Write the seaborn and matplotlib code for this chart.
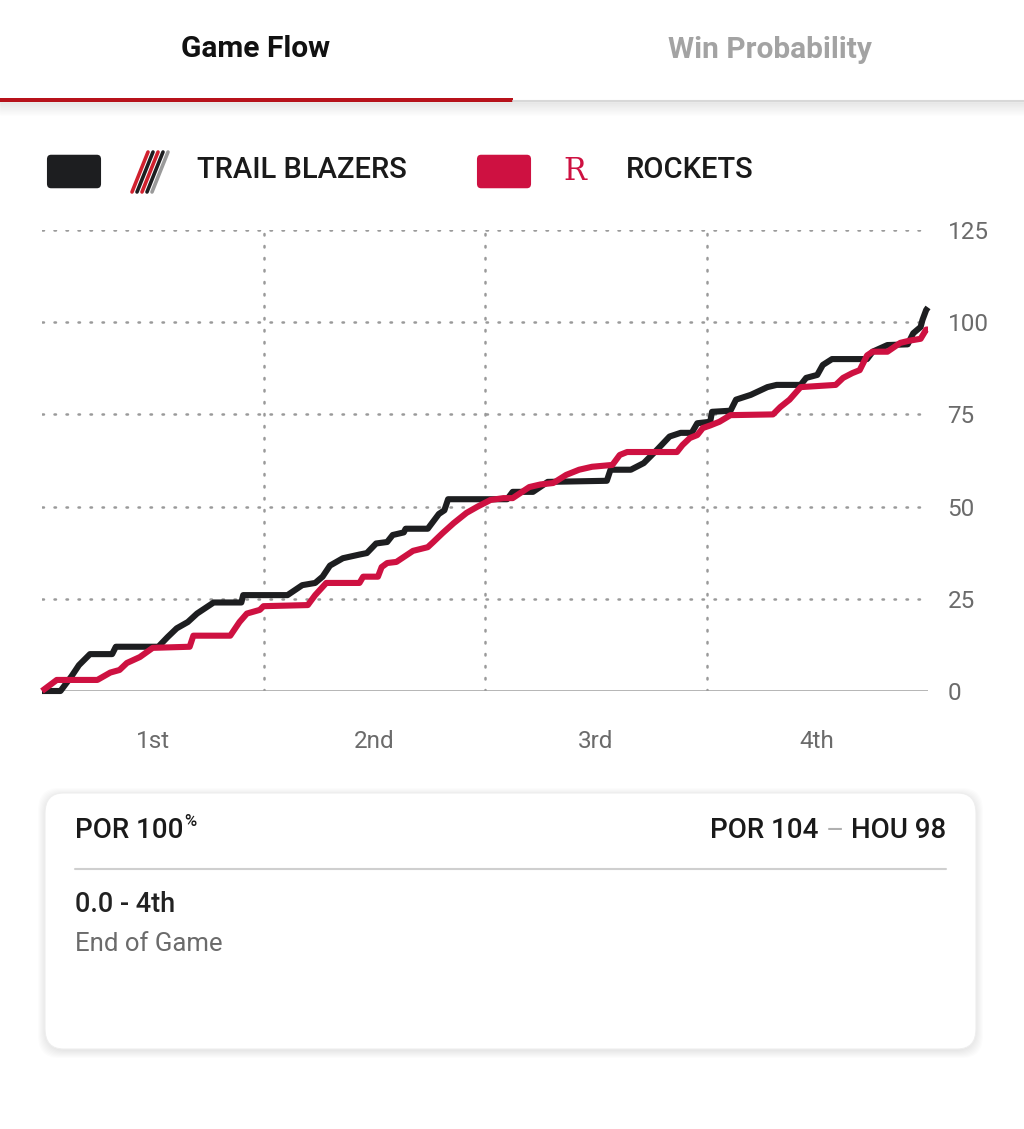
import matplotlib
matplotlib.use('Agg')
import matplotlib.pyplot as plt
import seaborn as sns
import pandas as pd
from matplotlib.patches import FancyBboxPatch, Rectangle
from matplotlib.lines import Line2D

# pontos acumulados por minuto de jogo
por_min = [0, 1.0, 1.6, 2.0, 2.6, 3.8, 4.0, 6.3, 6.8, 7.3, 7.9, 8.4, 9.3, 10.8, 10.9,
           13.3, 14.1, 14.8, 15.2, 15.6, 16.3, 17.2, 17.6, 18.1, 18.7, 19.0, 19.6, 19.7,
           20.9, 21.2, 21.5, 21.8, 22.0, 25.2, 25.5, 26.6, 27.4, 30.6, 30.8, 31.9, 32.6,
           33.3, 34.0, 34.6, 35.2, 35.5, 36.2, 36.3, 37.3, 37.6, 38.4, 39.3, 39.8, 41.1,
           41.4, 42.0, 42.3, 42.8, 44.7, 45.0, 45.8, 46.9, 47.2, 47.6, 47.7, 47.9, 48.0]
por_pts = [0, 0, 4, 7, 10, 10, 12, 12, 14.6, 17, 18.7, 21, 24, 24, 26,
           26, 28.7, 29.3, 31, 34, 36, 37, 37.4, 40, 40.4, 42.3, 43, 44,
           44, 46, 48, 49, 52, 52, 54, 54, 56.7, 57, 60, 60, 61.8,
           65.3, 69, 70, 70, 72.6, 73, 75.7, 76, 79, 80.3, 82.4, 83, 83,
           84.9, 85.7, 88.4, 90, 90, 92, 93.8, 94, 97, 98.7, 100.6, 103.3, 104]

hou_min = [0, 0.8, 3.0, 3.7, 4.2, 4.6, 5.3, 6.0, 8.0, 8.2, 10.2, 10.7, 11.1, 11.8, 12.0,
           14.4, 14.8, 15.4, 17.2, 17.4, 18.2, 18.4, 18.7, 19.2, 19.8, 20.1, 20.9, 21.2,
           21.7, 22.3, 23.0, 23.6, 24.3, 25.0, 25.5, 26.4, 27.0, 27.7, 28.4, 29.1, 29.8,
           30.9, 31.3, 31.7, 34.4, 34.7, 35.1, 35.5, 35.8, 36.2, 36.7, 37.3, 39.6, 40.0,
           40.5, 41.1, 43.0, 43.4, 43.9, 44.3, 44.7, 45.0, 45.8, 46.5, 47.0, 47.6, 47.9, 48.0]
hou_pts = [0, 3, 3, 5, 5.7, 7.6, 9.2, 11.7, 12, 15, 15, 18.7, 21, 22, 23,
           23.3, 26, 29.3, 29.3, 31, 31, 33.6, 34.7, 35, 37, 38, 39, 40.4,
           42.8, 45.5, 48.3, 50, 51.8, 52.3, 52.3, 55.3, 56, 56.4, 58.6, 60, 60.8,
           61.3, 64, 64.8, 64.8, 66.7, 68.6, 69.4, 71.3, 72, 73, 74.8, 75, 77,
           79, 82.4, 83, 84.9, 86.2, 87, 91, 92, 92, 94.4, 95, 95.5, 98, 98]

quarters = ['1st', '2nd', '3rd', '4th']
quarter_mid = [6, 18, 30, 42]
quarter_ends = [12, 24, 36]
y_ticks = [0, 25, 50, 75, 100, 125]

cor_por = '#1d1e20'
cor_hou = '#ce1141'
cinza = '#6b6b6b'

df = pd.concat([
    pd.DataFrame({'time': 'POR', 'minuto': por_min, 'pontos': por_pts}),
    pd.DataFrame({'time': 'HOU', 'minuto': hou_min, 'pontos': hou_pts}),
])

sns.set_theme(style='white')
plt.rcParams['font.family'] = ['Roboto', 'DejaVu Sans']

W, H = 1024, 1129
fig = plt.figure(figsize=(W / 100, H / 100), dpi=100)
fig.patch.set_facecolor('white')

def fx(px):
    return px / W

def fy(py):
    return 1 - py / H

# abas do topo
fig.text(fx(256), fy(49), 'Game Flow', fontsize=21.5, fontweight='bold', color='#111111',
         ha='center', va='center')
fig.text(fx(770), fy(50), 'Win Probability', fontsize=21.5, fontweight='bold', color='#a3a3a3',
         ha='center', va='center')
for i in range(14):
    fig.add_artist(Line2D([0, 1], [fy(102 + i), fy(102 + i)], color='black',
                          alpha=0.07 * (1 - i / 14), lw=1))
fig.add_artist(Line2D([fx(513), 1], [fy(101), fy(101)], color='#d8d8d8', lw=1.5))
fig.add_artist(Rectangle((0, fy(102)), fx(513), 4 / H, color='#b8121b', lw=0))

# legenda
fig.add_artist(FancyBboxPatch((fx(49), fy(186)), 50 / W, 29 / H,
                              boxstyle='round,pad=0.002,rounding_size=0.004',
                              color=cor_por, lw=0))
fig.add_artist(FancyBboxPatch((fx(479), fy(186)), 50 / W, 29 / H,
                              boxstyle='round,pad=0.002,rounding_size=0.004',
                              color=cor_hou, lw=0))
# logos simplificados
for k, c in enumerate(['#d0202e', cor_por, '#d0202e', cor_por, '#9a9a9a']):
    x0 = 138 + k * 5
    fig.add_artist(Line2D([fx(x0 + 10), fx(x0 - 6)], [fy(152), fy(192)], color=c, lw=2.6))
fig.text(fx(575), fy(171), 'R', fontsize=22, color=cor_hou, ha='center', va='center',
         family='DejaVu Serif')
fig.text(fx(197), fy(170), 'TRAIL BLAZERS', fontsize=21, fontweight='medium',
         color='#1a1a1a', va='center')
fig.text(fx(626), fy(170), 'ROCKETS', fontsize=21, fontweight='medium',
         color='#1a1a1a', va='center')

# grafico
ax = fig.add_axes([fx(42), fy(691), (928 - 42) / W, (691 - 230) / H])
pontilhado = dict(color='#9a9a9a', lw=1.8, ls=(0, (0.6, 4.2)), dash_capstyle='round', zorder=1)
for v in y_ticks[1:]:
    ax.axhline(v, **pontilhado)
for q in quarter_ends:
    ax.axvline(q, **pontilhado)
ax.axhline(0, color='#a0a0a0', lw=1.8, zorder=1)

sns.lineplot(data=df, x='minuto', y='pontos', hue='time', hue_order=['POR', 'HOU'],
             palette={'POR': cor_por, 'HOU': cor_hou}, estimator=None, sort=False,
             linewidth=4.4, legend=False, ax=ax, zorder=3)
for ln in ax.lines[-2:]:
    ln.set_clip_on(False)
    ln.set_solid_joinstyle('round')
    ln.set_solid_capstyle('butt')

ax.set_xlim(0, 48)
ax.set_ylim(0, 125)
ax.set_xticks(quarter_mid, quarters)
ax.set_yticks(y_ticks)
ax.yaxis.tick_right()
ax.tick_params(axis='y', length=0, pad=14, labelsize=17.5, labelcolor=cinza)
ax.tick_params(axis='x', length=0, pad=28, labelsize=17.5, labelcolor=cinza)
ax.set_xlabel('')
ax.set_ylabel('')
ax.grid(False)
sns.despine(ax=ax, left=True, bottom=True)
ax.set_facecolor('none')

# cartao inferior
for i in range(8):
    fig.add_artist(FancyBboxPatch((fx(45 - i), fy(1049 + i + 2)), (931 + 2 * i) / W, (256 + 2 * i) / H,
                                  boxstyle='round,pad=0,rounding_size=0.02',
                                  color='black', alpha=0.012, lw=0))
fig.add_artist(FancyBboxPatch((fx(45), fy(1049)), 931 / W, 256 / H,
                              boxstyle='round,pad=0,rounding_size=0.018',
                              facecolor='white', edgecolor='#eeeeee', lw=0.8))
t_por = fig.text(fx(75), fy(831), 'POR 100', fontsize=20, fontweight='medium',
                 color='#1a1a1a', va='center')
renderer = fig.canvas.get_renderer()
x_fim = t_por.get_window_extent(renderer).x1 / W
fig.text(x_fim + 1 / W, fy(822), '%', fontsize=12, fontweight='medium', color='#1a1a1a', va='center')
t_hou = fig.text(fx(946), fy(831), 'HOU 98', fontsize=20, fontweight='medium',
                 color='#1a1a1a', va='center', ha='right')
x_ini = t_hou.get_window_extent(renderer).x0
fig.text((x_ini - 16) / W, fy(831), '–', fontsize=20, color='#b0b0b0', va='center', ha='center')
fig.text((x_ini - 32) / W, fy(831), 'POR 104', fontsize=20, fontweight='medium',
         color='#1a1a1a', va='center', ha='right')
fig.add_artist(Line2D([fx(75), fx(946)], [fy(869), fy(869)], color='#cfcfcf', lw=1.5))
fig.text(fx(75), fy(904), '0.0 - 4th', fontsize=19.5, fontweight='medium', color='#222222', va='center')
fig.text(fx(75), fy(944), 'End of Game', fontsize=18.5, color=cinza, va='center')

plt.savefig('out.png', dpi=100, facecolor='white')
plt.close()
